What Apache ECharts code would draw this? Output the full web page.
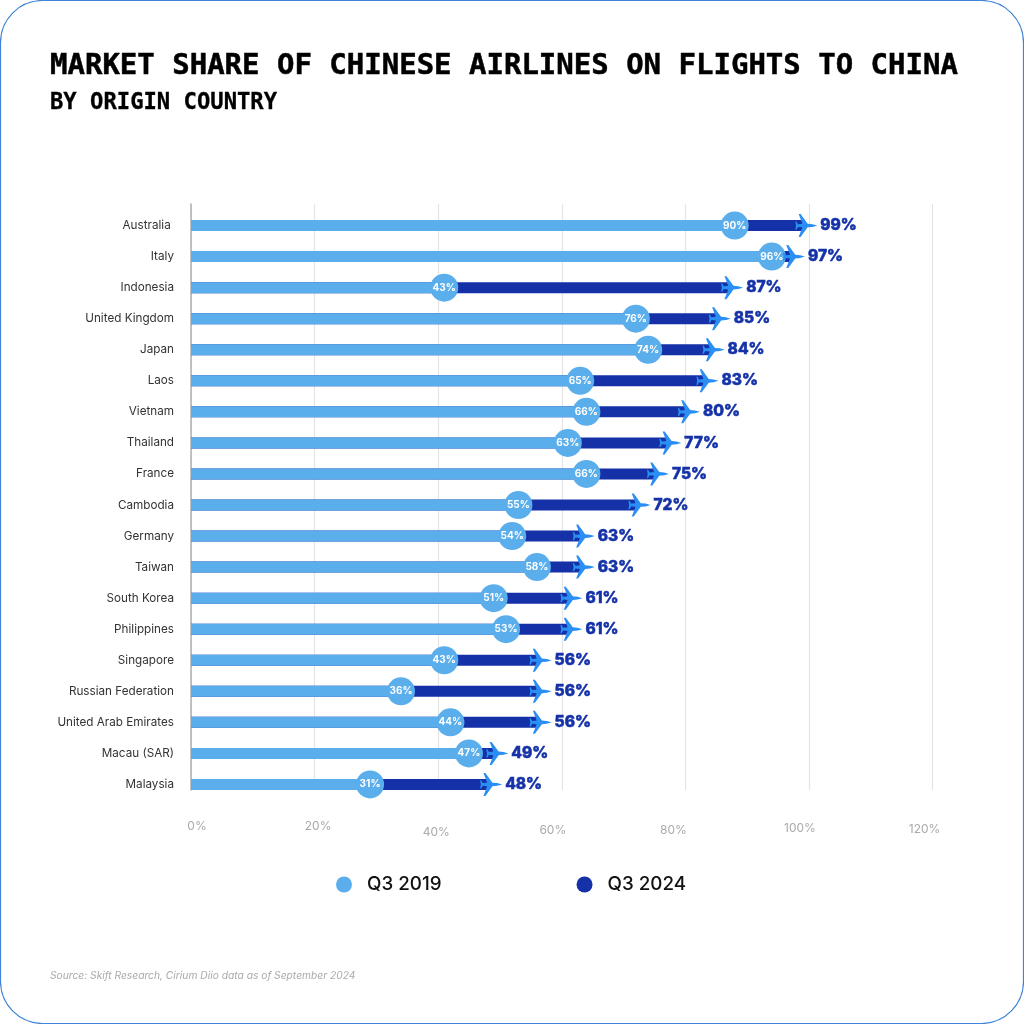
<!DOCTYPE html>
<html>
<head>
<meta charset="utf-8">
<script src="https://cdn.jsdelivr.net/npm/echarts@6/dist/echarts.min.js"></script>
<style>html,body{margin:0;padding:0;background:#fff}#c{width:1024px;height:1024px}</style>
</head>
<body>
<div id="c"></div>
<script>
var countries = ['Australia ','Italy','Indonesia','United Kingdom','Japan','Laos','Vietnam','Thailand','France','Cambodia','Germany','Taiwan','South Korea','Philippines','Singapore','Russian Federation','United Arab Emirates','Macau (SAR)','Malaysia'];
var q32019 = [90,96,43,74,76,65,66,63,66,55,54,58,51,53,43,36,44,47,31];
var q32019Labels = [90,96,43,76,74,65,66,63,66,55,54,58,51,53,43,36,44,47,31];
var q32024 = [99,97,87,85,84,83,80,77,75,72,63,63,61,61,56,56,56,49,48];

var LIGHT = '#5BAEEC', DARK = '#1431A8', PLANE = '#2A8EF2';
var planePath = 'path://M100 50 L78 44 L56 42 L24 0 L15 0 L32 42 L12 44 L5 32 L0 32 L3 50 L0 68 L5 68 L12 56 L32 58 L15 100 L24 100 L56 58 L78 56 Z';

function pairs(arr){ return arr.map(function(v,i){ return [v,i]; }); }
function tick(pad){ return {color:'#aaa',fontSize:12,fontFamily:'Inter',padding:pad}; }

var chart = echarts.init(document.getElementById('c'), null, {renderer:'canvas'});
chart.setOption({
  animation:false,
  backgroundColor:'#fff',
  title:[
    {text:'MARKET SHARE OF CHINESE AIRLINES ON FLIGHTS TO CHINA',left:50,top:52,padding:0,
     textStyle:{fontFamily:'DejaVu Sans Mono',fontWeight:'bold',fontSize:29,color:'#000',textBorderColor:'#000',textBorderWidth:0.5}},
    {text:'BY ORIGIN COUNTRY',left:50,top:92,padding:0,
     textStyle:{fontFamily:'DejaVu Sans Mono',fontWeight:'bold',fontSize:22.2,color:'#000',textBorderColor:'#000',textBorderWidth:0.3}},
    {text:'Source: Skift Research, Cirium Diio data as of September 2024',left:50,top:971,padding:0,
     textStyle:{fontFamily:'Inter',fontStyle:'italic',fontWeight:'normal',fontSize:10.25,color:'#aaa'}}
  ],
  legend:{
    data:['Q3 2019','Q3 2024'],left:336,top:875,padding:0,icon:'circle',itemWidth:16,itemHeight:16,itemGap:135,
    textStyle:{fontFamily:'Inter',fontWeight:500,fontSize:18.8,color:'#111',padding:[1,0,0,10]}
  },
  grid:[
    {left:191,top:210,width:741.6,height:590},
    {left:191,top:204,width:741.6,height:586}
  ],
  xAxis:[
    {type:'value',gridIndex:0,min:0,max:120,interval:20,
     axisLine:{show:false},axisTick:{show:false},splitLine:{show:false},axisLabel:{show:false}},
    {type:'value',gridIndex:1,min:0,max:120,interval:20,
     axisLine:{show:false},axisTick:{show:false},
     splitLine:{show:true,lineStyle:{color:'#e4e4e4',width:1.2}},
     axisLabel:{margin:30,formatter:function(v){return '{t'+v+'|'+v+'%}';},
       rich:{t0:tick([0,0,0,12]),t20:tick([0,0,0,7]),t40:tick([6,4,0,0]),t60:tick([4,18,0,0]),
             t80:tick([4,24,0,0]),t100:tick([2,18,0,0]),t120:tick([3,16,0,0])}}}
  ],
  yAxis:[
    {type:'category',gridIndex:0,inverse:true,data:countries,
     axisLine:{show:false},axisTick:{show:false},
     axisLabel:{margin:17,color:'#333',fontFamily:'Inter',fontSize:11.7,padding:[1,0,0,0]}},
    {type:'value',gridIndex:1,min:0,max:1,
     axisLine:{show:true,lineStyle:{color:'#b0b0b0',width:1.5}},axisTick:{show:false},
     splitLine:{show:false},axisLabel:{show:false}}
  ],
  series:[
    {name:'Q3 2024',type:'bar',data:q32024,barWidth:11,barGap:'-100%',itemStyle:{color:DARK},z:2},
    {name:'Q3 2019',type:'bar',data:q32019,barWidth:11,itemStyle:{color:LIGHT},z:3},
    {name:'Q3 2019 markers',type:'scatter',data:pairs(q32019),symbol:'circle',symbolSize:28,symbolOffset:[-12.5,0],
     itemStyle:{color:LIGHT,opacity:1},z:4,
     label:{show:true,position:'inside',color:'#fff',fontFamily:'Inter',fontWeight:700,fontSize:10,
       formatter:function(p){return q32019Labels[p.dataIndex]+'%';}}},
    {name:'Q3 2024 planes',type:'scatter',data:pairs(q32024),symbol:planePath,symbolSize:[22,23],symbolOffset:[3.5,0],
     itemStyle:{color:PLANE,opacity:1},z:5,
     label:{show:true,position:'right',distance:3,color:DARK,fontFamily:'Inter',fontWeight:800,fontSize:15.5,
       textBorderColor:DARK,textBorderWidth:0.5,
       formatter:function(p){return p.value[0]+'%';}}}
  ],
  graphic:[{type:'rect',silent:true,z:100,shape:{x:0.5,y:0.5,width:1023,height:1023,r:42},
    style:{fill:'none',stroke:'#3F84D6',lineWidth:1.2}}]
});
</script>
</body>
</html>
